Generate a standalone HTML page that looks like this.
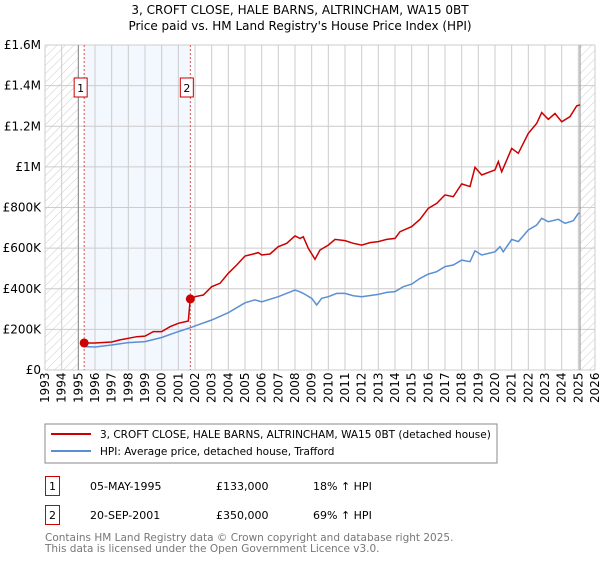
<!DOCTYPE html>
<html><head><meta charset="utf-8"><style>
body{margin:0;background:#fff;font-family:"DejaVu Sans","Liberation Sans",sans-serif;}
svg text{font-family:"DejaVu Sans","Liberation Sans",sans-serif;}
</style></head><body>
<svg id="c" width="600" height="560" xmlns="http://www.w3.org/2000/svg">
<defs><pattern id="h" width="6" height="6" patternUnits="userSpaceOnUse" patternTransform="rotate(45)"><line x1="0" y1="0" x2="0" y2="6" stroke="#ccc" stroke-width="1"/></pattern></defs>
<text x="300" y="14" text-anchor="middle" font-size="12">3, CROFT CLOSE, HALE BARNS, ALTRINCHAM, WA15 0BT</text>
<text x="300" y="30" text-anchor="middle" font-size="12">Price paid vs. HM Land Registry's House Price Index (HPI)</text>
<g id="plot"></g>
<rect x="45" y="424" width="452" height="39" fill="#fff" stroke="#888"/>
<line x1="51" y1="434" x2="91" y2="434" stroke="#cc0000" stroke-width="2"/>
<text x="100" y="438" font-size="10.5">3, CROFT CLOSE, HALE BARNS, ALTRINCHAM, WA15 0BT (detached house)</text>
<line x1="51" y1="451" x2="91" y2="451" stroke="#5b8fd4" stroke-width="2"/>
<text x="100" y="455" font-size="10.5">HPI: Average price, detached house, Trafford</text>
<g font-size="11">
<rect x="45.5" y="476.5" width="14" height="19" fill="none" stroke="#cc0000"/>
<text x="52.5" y="490" text-anchor="middle">1</text>
<text x="90" y="490">05-MAY-1995</text><text x="216" y="490">£133,000</text><text x="313" y="490">18% ↑ HPI</text>
<rect x="45.5" y="505.5" width="14" height="19" fill="none" stroke="#cc0000"/>
<text x="52.5" y="519" text-anchor="middle">2</text>
<text x="90" y="519">20-SEP-2001</text><text x="216" y="519">£350,000</text><text x="313" y="519">69% ↑ HPI</text>
</g>
<text x="45" y="541" font-size="10.5" fill="#777">Contains HM Land Registry data © Crown copyright and database right 2025.</text>
<text x="45" y="552" font-size="10.5" fill="#777">This data is licensed under the Open Government Licence v3.0.</text>
</svg>
<script>
const yTicks=[0,200000,400000,600000,800000,1000000,1200000,1400000,1600000];
const yTickLabels=["£0","£200K","£400K","£600K","£800K","£1M","£1.2M","£1.4M","£1.6M"];
const years=[1993,1994,1995,1996,1997,1998,1999,2000,2001,2002,2003,2004,2005,2006,2007,2008,2009,2010,2011,2012,2013,2014,2015,2016,2017,2018,2019,2020,2021,2022,2023,2024,2025,2026];
const saleDates=[1995.35,2001.72];
const salePrices=[133000,350000];
const saleLabels=["1","2"];
const hpiT=[1995.35,1996,1997,1998,1999,2000,2001,2001.7,2002,2003,2004,2005,2005.6,2006,2007,2008,2008.3,2008.5,2009,2009.3,2009.6,2010,2010.5,2011,2011.5,2012,2013,2013.5,2014,2014.5,2015,2015.5,2016,2016.5,2017,2017.5,2018,2018.5,2018.8,2019.2,2020,2020.3,2020.5,2021,2021.4,2022,2022.5,2022.8,2023.2,2023.8,2024.2,2024.7,2025,2025.1];
const hpiV=[115,113,123,135,140,160,189,208,217,246,282,331,345,336,361,394,385,377,353,320,353,361,377,377,366,361,372,382,386,410,423,451,472,484,509,517,541,533,587,566,582,607,582,643,632,689,714,747,730,742,722,735,771,771];
const redT=[1995.35,1996,1997,1997.5,1998,1998.5,1999,1999.5,2000,2000.5,2001,2001.6,2001.72,2002,2002.5,2003,2003.5,2004,2004.5,2005,2005.5,2005.8,2006,2006.5,2007,2007.5,2008,2008.3,2008.5,2008.8,2009.2,2009.5,2010,2010.4,2011,2011.5,2012,2012.5,2013,2013.5,2014,2014.3,2015,2015.5,2016,2016.5,2017,2017.5,2018,2018.5,2018.8,2019.2,2020,2020.2,2020.4,2021,2021.4,2022,2022.5,2022.8,2023.2,2023.6,2024,2024.5,2024.9,2025.1];
const redV=[133,133,138,148,156,164,167,189,189,213,230,241,350,361,369,410,427,476,517,561,571,578,566,571,607,624,660,648,656,599,545,591,615,643,637,624,615,627,632,643,648,681,706,742,796,820,862,853,916,903,998,960,985,1026,976,1091,1067,1165,1214,1267,1234,1263,1222,1247,1300,1305];
const NS="http://www.w3.org/2000/svg";
const X0=45,X1=595,Y0=370,Y1=45;
const sx=t=>X0+(t-1993)/(2026-1993)*(X1-X0);
const sy=v=>Y0-v/1600000*(Y0-Y1);
const g=document.getElementById('plot');
function mk(tag,at){const e=document.createElementNS(NS,tag);for(const k in at)e.setAttribute(k,at[k]);g.appendChild(e);return e;}
let e;
e=mk('rect',{x:sx(saleDates[0]),y:Y1,width:sx(saleDates[1])-sx(saleDates[0]),height:Y0-Y1,fill:'#eef3fd',opacity:0.7});


e=mk('rect',{x:X0,y:Y1,width:sx(1995)-X0,height:Y0-Y1,fill:'url(#h)'});


e=mk('rect',{x:sx(2025.1),y:Y1,width:X1-sx(2025.1),height:Y0-Y1,fill:'url(#h)'});


yTicks.forEach((v,i)=>{
 e=mk('line',{x1:X0,x2:X1,y1:sy(v),y2:sy(v),stroke:'#ccc'});
 
 
 e=mk('text',{x:X0-4,y:sy(v)+4,'text-anchor':'end','font-size':12});e.textContent=yTickLabels[i];
 
 
});
years.forEach(y=>{
 e=mk('line',{x1:sx(y),x2:sx(y),y1:Y1,y2:Y0,stroke:'#ccc'});
 
 
 e=mk('text',{x:0,y:0,'font-size':12,transform:`translate(${sx(y)+4},${Y0+33}) rotate(-90)`});e.textContent=y;
 
 
});
[1995,2025.1].forEach(t=>{e=mk('line',{x1:sx(t),x2:sx(t),y1:Y1,y2:Y0,stroke:'#888'});
 
 });
saleDates.forEach((t,i)=>{
 e=mk('line',{x1:sx(t),x2:sx(t),y1:Y1,y2:Y0,stroke:'#e05050','stroke-dasharray':'2,2'});
 
 
 e=mk('rect',{x:sx(t)-10,y:78,width:13,height:19,fill:'#fff',stroke:'#cc0000'});
 
 
 e=mk('text',{x:sx(t)-3.5,y:92,'text-anchor':'middle','font-size':11});e.textContent=saleLabels[i];
 
 
});
const pts=(T,V)=>T.map((t,i)=>sx(t).toFixed(1)+','+sy(V[i]*1000).toFixed(1)).join(' ');
e=mk('polyline',{points:pts(hpiT,hpiV),fill:'none',stroke:'#5b8fd4','stroke-width':1.5});


e=mk('polyline',{points:pts(redT,redV),fill:'none',stroke:'#cc0000','stroke-width':1.5});


saleDates.forEach((t,i)=>{
 e=mk('circle',{cx:sx(t),cy:sy(salePrices[i]),r:4.5,fill:'#cc0000'});
 
 
});
</script>
</body></html>
